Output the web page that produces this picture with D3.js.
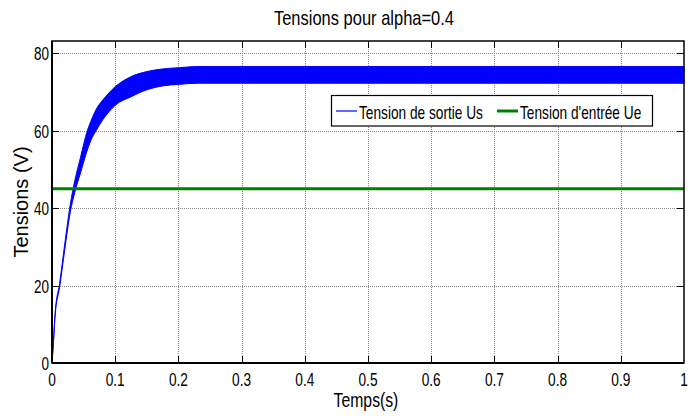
<!DOCTYPE html>
<html>
<head>
<meta charset="utf-8">
<script src="https://cdn.jsdelivr.net/npm/d3@7"></script>
<style>
  html, body { margin: 0; padding: 0; background: #fff; }
  text { font-family: "Liberation Sans", Arial, sans-serif; fill: #000; }
</style>
</head>
<body>
<svg id="chart" width="697" height="416"></svg>
<script>
// valeurs (enveloppe de l'ondulation de Us)
const temps = [0, 0.002, 0.005, 0.012, 0.02, 0.029, 0.036, 0.045, 0.056, 0.063, 0.07, 0.08, 0.09, 0.1, 0.125, 0.15, 0.175, 0.2, 0.23, 0.3, 0.5, 1.0];
const usHaut = [0, 5, 13, 20.5, 30.5, 41, 47, 53, 60, 63, 65.5, 67.8, 69.7, 71.3, 73.9, 75.2, 75.9, 76.2, 76.5, 76.5, 76.5, 76.5];
const usBas = [0, 4.5, 12.3, 19.5, 29, 39, 44, 49, 55, 58, 60, 62.7, 64.8, 66.5, 68.7, 70.5, 71.5, 71.9, 72.2, 72.2, 72.2, 72.2];
const ue = 45;

const xTicks = [0, 0.1, 0.2, 0.3, 0.4, 0.5, 0.6, 0.7, 0.8, 0.9, 1];
const yTicks = [0, 20, 40, 60, 80];
const legendLabels = ["Tension de sortie Us", "Tension d'entrée Ue"];
const titre = "Tensions pour alpha=0.4";

const svg = d3.select("#chart");
const pL = 52, pR = 684, pT = 41, pB = 363;

const x = d3.scaleLinear().domain([0, 1]).range([pL, pR]);
const y = d3.scaleLinear().domain([0, 83.1]).range([pB, pT]);

// texte compressé horizontalement comme sur l'original
function squeeze(sel, f) {
  sel.each(function () {
    const w = this.getComputedTextLength();
    d3.select(this).attr("textLength", w * f).attr("lengthAdjust", "spacingAndGlyphs");
  });
}

svg.append("rect").attr("width", 697).attr("height", 416).attr("fill", "#fff");

// grille
const grid = svg.append("g").attr("stroke", "#8a8a8a").attr("stroke-width", 1).attr("stroke-dasharray", "1,1");
grid.selectAll("line.gx").data(xTicks.slice(1, -1)).join("line")
  .attr("x1", d => Math.round(x(d)) + 0.5).attr("x2", d => Math.round(x(d)) + 0.5)
  .attr("y1", pT).attr("y2", pB);
grid.selectAll("line.gy").data(yTicks.slice(1)).join("line")
  .attr("y1", d => Math.round(y(d)) + 0.5).attr("y2", d => Math.round(y(d)) + 0.5)
  .attr("x1", pL).attr("x2", pR);

// courbe Us (bande d'ondulation)
const pts = temps.map((t, i) => ({ t, hi: usHaut[i], lo: usBas[i] }));
const area = d3.area().x(d => x(d.t)).y0(d => y(d.lo)).y1(d => y(d.hi)).curve(d3.curveMonotoneX);
svg.append("path").datum(pts).attr("d", area).attr("fill", "#0000ff").attr("stroke", "#0000ff").attr("stroke-width", 1);

// Ue
svg.append("line").attr("x1", x(0)).attr("x2", x(1)).attr("y1", y(ue)).attr("y2", y(ue))
  .attr("stroke", "#008000").attr("stroke-width", 3);

// cadre + graduations internes
svg.append("rect").attr("x", pL).attr("y", pT).attr("width", pR - pL).attr("height", pB - pT)
  .attr("fill", "none").attr("stroke", "#000").attr("stroke-width", 1.5);
svg.append("line").attr("x1", pL).attr("x2", pR).attr("y1", pB).attr("y2", pB).attr("stroke", "#000").attr("stroke-width", 2);
svg.append("line").attr("x1", pL).attr("x2", pL).attr("y1", pT).attr("y2", pB).attr("stroke", "#000").attr("stroke-width", 2);

const tk = 7;
const ticks = svg.append("g").attr("stroke", "#000").attr("stroke-width", 1);
xTicks.slice(1, -1).forEach(d => {
  const px = Math.round(x(d)) + 0.5;
  ticks.append("line").attr("x1", px).attr("x2", px).attr("y1", pB).attr("y2", pB - tk);
  ticks.append("line").attr("x1", px).attr("x2", px).attr("y1", pT).attr("y2", pT + tk);
});
yTicks.slice(1).forEach(d => {
  const py = Math.round(y(d)) + 0.5;
  ticks.append("line").attr("y1", py).attr("y2", py).attr("x1", pL).attr("x2", pL + tk);
  ticks.append("line").attr("y1", py).attr("y2", py).attr("x1", pR).attr("x2", pR - tk);
});

// étiquettes des axes
svg.selectAll("text.xt").data(xTicks).join("text").attr("class", "xt")
  .attr("x", d => x(d)).attr("y", 386).attr("text-anchor", "middle").attr("font-size", 19)
  .text(d => d3.format("")(d)).call(squeeze, 0.72);
svg.selectAll("text.yt").data(yTicks).join("text").attr("class", "yt")
  .attr("x", pL - 3).attr("y", d => y(d) + 7).attr("text-anchor", "end").attr("font-size", 18)
  .text(d => d).call(squeeze, 0.75);

svg.append("text").attr("x", 366).attr("y", 407).attr("text-anchor", "middle").attr("font-size", 21)
  .text("Temps(s)").call(squeeze, 0.75);
svg.append("text").attr("transform", "translate(28,202) rotate(-90)").attr("text-anchor", "middle")
  .attr("font-size", 20).text("Tensions (V)");
svg.append("text").attr("x", 364).attr("y", 25).attr("text-anchor", "middle").attr("font-size", 21)
  .text(titre).call(squeeze, 0.785);

// légende
const lg = svg.append("g");
lg.append("rect").attr("x", 331.5).attr("y", 95.5).attr("width", 321).attr("height", 30.5)
  .attr("fill", "#fff").attr("stroke", "#000").attr("stroke-width", 1.2);
const legendColors = ["#0000ff", "#008000"];
const legendWidths = [1.2, 3];
const legendX = [336, 497];
legendLabels.forEach((lab, i) => {
  lg.append("line").attr("x1", legendX[i]).attr("x2", legendX[i] + 21).attr("y1", 111).attr("y2", 111)
    .attr("stroke", legendColors[i]).attr("stroke-width", legendWidths[i]);
  lg.append("text").attr("x", legendX[i] + 23).attr("y", 119).attr("font-size", 19)
    .text(lab).call(squeeze, 0.72);
});
</script>
</body>
</html>
